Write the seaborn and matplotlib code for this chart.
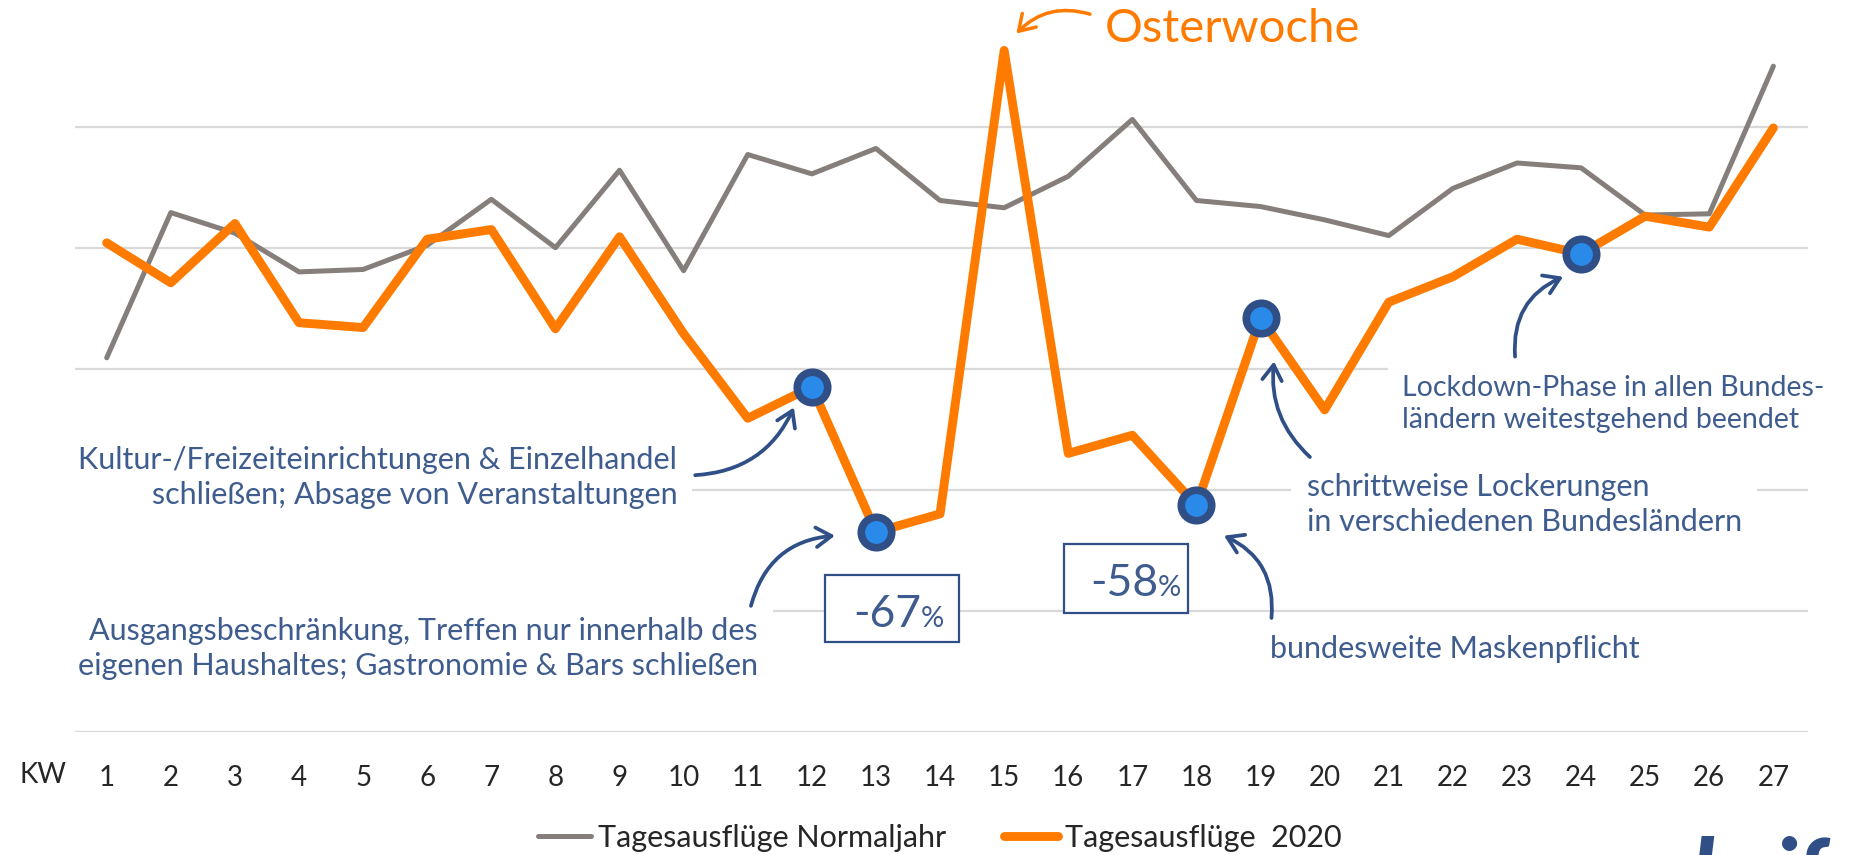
import matplotlib
matplotlib.use("Agg")
import matplotlib.pyplot as plt
from matplotlib.patches import Rectangle
import pandas as pd
import seaborn as sns

kw = list(range(1, 28))
normaljahr = [3.09, 4.29, 4.12, 3.80, 3.82, 4.02, 4.40, 4.00, 4.64, 3.81, 4.77, 4.61, 4.82, 4.39,
              4.33, 4.59, 5.06, 4.39, 4.34, 4.23, 4.10, 4.49, 4.70, 4.66, 4.27, 4.28, 5.50]
jahr_2020 = [4.04, 3.71, 4.20, 3.38, 3.34, 4.07, 4.15, 3.33, 4.09, 3.29, 2.59, 2.85, 1.65, 1.80,
             5.63, 2.30, 2.45, 1.87, 3.42, 2.66, 3.55, 3.76, 4.07, 3.95, 4.26, 4.17, 4.99]
highlight_kw = [12, 13, 18, 19, 24]
series_labels = ["Tagesausflüge Normaljahr", "Tagesausflüge  2020"]

ORANGE = "#FF7B00"
GREY = "#857E7B"
NAVY = "#2F4F86"
TEXT_BLUE = "#3F5C8E"
BRIGHT = "#2A8AEA"

sns.set_style("white")
plt.rcParams["font.family"] = ["Lato", "DejaVu Sans"]

df = pd.DataFrame({"kw": kw, "normal": normaljahr, "y2020": jahr_2020})
hl = df[df["kw"].isin(highlight_kw)]

W, H = 1863, 855
fig = plt.figure(figsize=(W / 100, H / 100), dpi=100)
ax = fig.add_axes([75 / W, 123.3 / H, (1808 - 75) / W, 731.7 / H])

sns.lineplot(data=df, x="kw", y="normal", color=GREY, lw=3.6, ax=ax,
             label=series_labels[0], zorder=4)
sns.lineplot(data=df, x="kw", y="y2020", color=ORANGE, lw=6.4, ax=ax,
             label=series_labels[1], zorder=5)
sns.scatterplot(data=hl, x="kw", y="y2020", s=480, color=BRIGHT, edgecolor=NAVY,
                linewidth=5.5, ax=ax, zorder=6, legend=False)

ax.set_xlim(0.5055, 27.54)
ax.set_ylim(0, 6.047)
ax.set_yticks(range(6))
ax.set_yticklabels([])
ax.grid(axis="y", color="#D9D9D9", lw=1.6, zorder=0)
ax.set_axisbelow(True)
ax.set_xticks(kw)
ax.set_xticklabels([str(k) for k in kw], fontsize=20, color="#262626")
ax.tick_params(axis="x", length=0, pad=24)
ax.tick_params(axis="y", length=0)
ax.set_xlabel("")
ax.set_ylabel("")
for s in ax.spines.values():
    s.set_visible(False)

ax.text(0.006, -0.358, "KW", fontsize=20, color="#262626",
        ha="center", va="center", clip_on=False)

# Legende
handles, labels = ax.get_legend_handles_labels()
ax.legend(handles, labels, loc="center left", bbox_to_anchor=(538 / W, 1 - 838 / H),
          bbox_transform=fig.transFigure, ncol=2, frameon=False,
          handlelength=1.75, handletextpad=0.22, columnspacing=1.9, borderpad=0,
          borderaxespad=0, prop={"size": 22})

# Osterwoche
ax.text(16.57, 5.81, "Osterwoche", fontsize=34, color=ORANGE,
        ha="left", va="center", zorder=7)
ax.annotate("", xy=(15.19, 5.77), xytext=(16.34, 5.93), annotation_clip=False,
            arrowprops=dict(arrowstyle="->,head_length=0.55,head_width=0.35",
                            connectionstyle="arc3,rad=0.3", color=ORANGE, lw=2.5,
                            shrinkA=0, shrinkB=0, mutation_scale=20))

box = dict(boxstyle="square,pad=0.5", fc="white", ec="none")
note_kw = dict(color=TEXT_BLUE, linespacing=1.3, va="center", zorder=3, bbox=box)

ax.text(9.90, 2.10, "Kultur-/Freizeiteinrichtungen & Einzelhandel\nschließen; Absage von Veranstaltungen",
        ha="right", multialignment="right", fontsize=22, **note_kw)
ax.text(11.16, 0.688, "Ausgangsbeschränkung, Treffen nur innerhalb des\neigenen Haushaltes; Gastronomie & Bars schließen",
        ha="right", multialignment="right", fontsize=22, **note_kw)
ax.text(19.14, 0.683, "bundesweite Maskenpflicht", ha="left", fontsize=22, **note_kw)
ax.text(19.72, 1.88, "schrittweise Lockerungen\nin verschiedenen Bundesländern",
        ha="left", multialignment="left", fontsize=22, **note_kw)
ax.text(21.21, 2.71, "Lockdown-Phase in allen Bundes-\nländern weitestgehend beendet",
        ha="left", multialignment="left", fontsize=20.5, **note_kw)

arrows = [
    ((10.18, 2.12), (11.72, 2.68), 0.3),
    ((11.05, 1.04), (12.36, 1.62), -0.35),
    ((19.17, 0.94), (18.43, 1.62), 0.35),
    ((19.77, 2.27), (19.21, 3.06), -0.25),
    ((22.97, 3.10), (23.72, 3.76), -0.35),
]
for start, end, rad in arrows:
    ax.annotate("", xy=end, xytext=start, annotation_clip=False,
                arrowprops=dict(arrowstyle="->,head_length=0.55,head_width=0.35",
                                connectionstyle=f"arc3,rad={rad}", color=NAVY, lw=2.7,
                                shrinkA=0, shrinkB=0, mutation_scale=20), zorder=6)

# Prozent-Kästen
for (x0, x1, y0, y1), (tx, ty), val in [((12.2, 14.3, 0.742, 1.295), (13.70, 0.865), "-67"),
                                          ((15.94, 17.87, 0.98, 1.55), (17.40, 1.12), "-58")]:
    ax.add_patch(Rectangle((x0, y0), x1 - x0, y1 - y0, fc="white", ec=NAVY, lw=1.6, zorder=3))
    ax.text(tx, ty, val, fontsize=32, color=TEXT_BLUE,
            ha="right", va="baseline", zorder=4)
    ax.text(tx, ty, "%", fontsize=21, color=TEXT_BLUE,
            ha="left", va="baseline", zorder=4)

# Logo (wie im Original am Rand abgeschnitten)
fig.text(1668 / W, 1 - 836 / H, "dwif", fontsize=60, color=NAVY, fontweight="heavy",
         style="italic", ha="left", va="top")

fig.savefig("out.png", dpi=100)
